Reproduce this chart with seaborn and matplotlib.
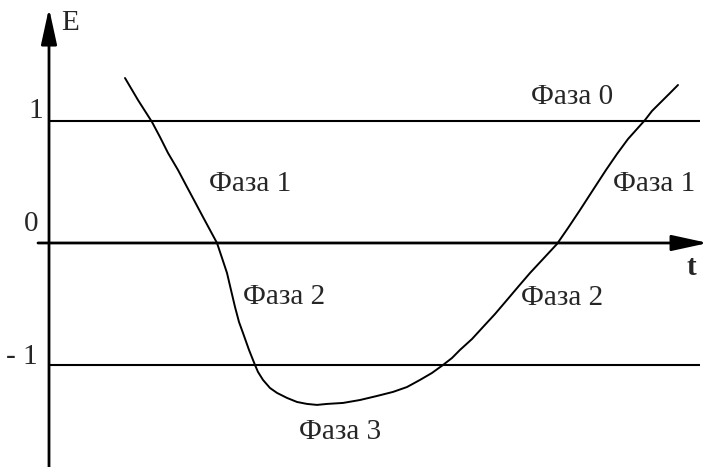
import matplotlib
matplotlib.use("Agg")
import matplotlib.pyplot as plt
import numpy as np
import pandas as pd
import seaborn as sns

# точки кривой (t, E)
t_vals = [0.76, 0.89, 1.03, 1.11, 1.19, 1.29, 1.38, 1.46, 1.54, 1.61, 1.68,
          1.73, 1.78, 1.82, 1.86, 1.90, 1.94, 2.00, 2.06, 2.09, 2.14, 2.21,
          2.28, 2.38, 2.48, 2.58, 2.68, 2.78, 2.94, 3.11, 3.28, 3.44, 3.58,
          3.71, 3.83, 3.94, 4.03, 4.11, 4.23, 4.34, 4.46, 4.58, 4.69, 4.81,
          4.94, 5.08, 5.19, 5.31, 5.44, 5.57, 5.68, 5.79, 5.88, 5.96, 6.03,
          6.11, 6.20, 6.29]
e_vals = [1.347, 1.167, 0.988, 0.865, 0.735, 0.596, 0.457, 0.335, 0.212, 0.106, 0.0,
          -0.122, -0.245, -0.384, -0.522, -0.645, -0.735, -0.873, -0.996, -1.053, -1.118, -1.184,
          -1.224, -1.265, -1.298, -1.314, -1.322, -1.314, -1.306, -1.282, -1.249, -1.216, -1.176,
          -1.118, -1.061, -0.996, -0.939, -0.873, -0.784, -0.686, -0.580, -0.465, -0.359, -0.245,
          -0.131, -0.008, 0.122, 0.269, 0.433, 0.596, 0.727, 0.849, 0.931, 1.004, 1.078,
          1.143, 1.216, 1.290]

levels = [1, -1]
tick_labels = ["1", "0", "- 1"]
phase_labels = ["Фаза 0", "Фаза 1", "Фаза 1", "Фаза 2", "Фаза 2", "Фаза 3"]

sns.set_style("white")
plt.rcParams['font.family'] = ['Liberation Serif', 'DejaVu Serif']

df = pd.DataFrame({'t': t_vals, 'E': e_vals})

fig = plt.figure(figsize=(7.09, 4.67), dpi=100)
ax = fig.add_axes([0, 0, 1, 1])
ax.set_xlim(-0.49, 6.60)
ax.set_ylim(-1.829, 1.984)
ax.axis('off')

# горизонтальные уровни 1 и -1
ax.hlines(levels, 0, 6.51, color='black', lw=1.5)

# оси со стрелками
arrow = dict(arrowstyle='-|>,head_length=1.1,head_width=0.24', color='black',
             lw=2, shrinkA=0, shrinkB=0, mutation_scale=20)
ax.annotate('', xy=(0, 1.918), xytext=(0, -1.829), arrowprops=arrow)
ax.annotate('', xy=(6.59, 0), xytext=(-0.11, 0), arrowprops=arrow)

sns.lineplot(data=df, x='t', y='E', sort=False, color='black', lw=1.4, ax=ax,
             solid_joinstyle='round', solid_capstyle='round')

fs = 21
ax.text(-0.13, 1.08, tick_labels[0], fontsize=fs, ha='center', va='center')
ax.text(-0.18, 0.155, tick_labels[1], fontsize=fs, ha='center', va='center')
ax.text(-0.27, -0.93, tick_labels[2], fontsize=fs, ha='center', va='center')
ax.text(0.21, 1.80, "E", fontsize=fs, ha='center', va='center')
ax.text(6.42, -0.20, "t", fontsize=fs, ha='center', va='center', fontweight='bold')

pos = [(5.23, 1.19), (2.01, 0.48), (6.05, 0.48), (2.35, -0.44), (5.13, -0.45), (2.91, -1.54)]
for lab, (x, y) in zip(phase_labels, pos):
    ax.text(x, y, lab, fontsize=fs, ha='center', va='center')

fig.savefig("out.png", dpi=100)
